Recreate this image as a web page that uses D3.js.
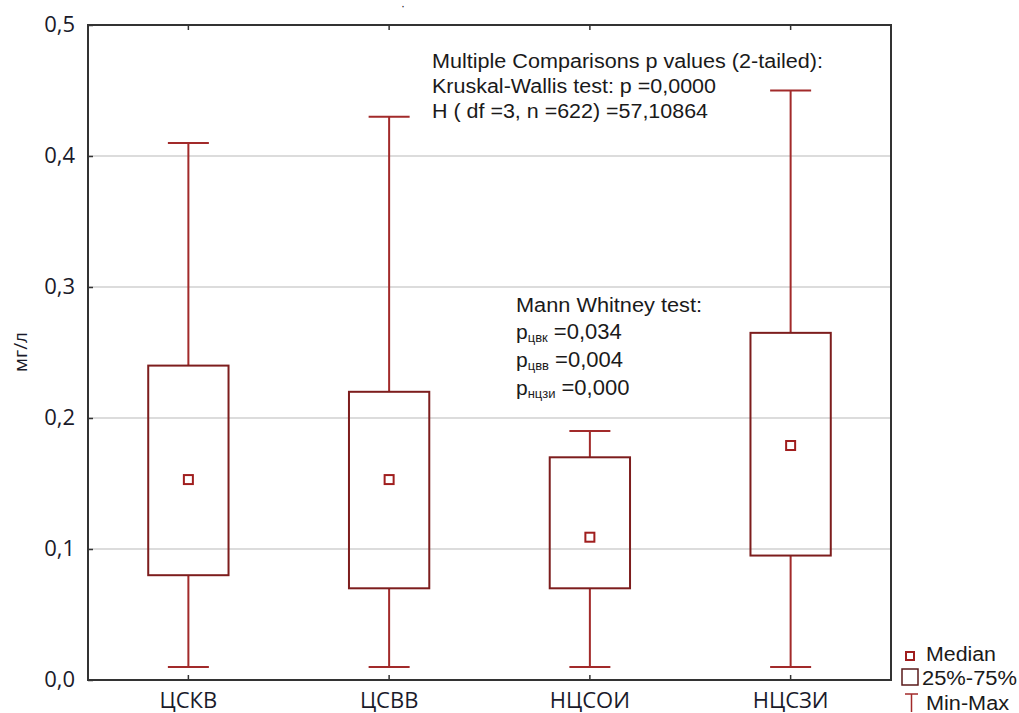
<!DOCTYPE html>
<html>
<head>
<meta charset="utf-8">
<script src="https://cdn.jsdelivr.net/npm/d3@7"></script>
<style>
  html, body { margin: 0; padding: 0; background: #fff; }
  svg { display: block; }
  .tick-label { font-family: "Open Sans", "Noto Sans", sans-serif; font-size: 22px; fill: #1a1a2a; }
  .note { font-family: "Liberation Sans", Arial, sans-serif; font-size: 20px; fill: #1a1a1a; }
</style>
</head>
<body>
<svg id="chart" width="1019" height="713"></svg>
<script>
// Groups and their summary statistics (mg/l)
const categories = ["ЦСКВ", "ЦСВВ", "НЦСОИ", "НЦСЗИ"];
const minValues    = [0.01, 0.01, 0.01, 0.01];
const q1Values     = [0.08, 0.07, 0.07, 0.095];
const medianValues = [0.153, 0.153, 0.109, 0.179];
const q3Values     = [0.24, 0.22, 0.17, 0.265];
const maxValues    = [0.41, 0.43, 0.19, 0.45];
const yTicks = [0, 0.1, 0.2, 0.3, 0.4, 0.5];
const yTickLabels = ["0,0", "0,1", "0,2", "0,3", "0,4", "0,5"];

const svg = d3.select("#chart");
const margin = { left: 88, top: 25, right: 1019 - 891, bottom: 713 - 680 };
const width = 891 - margin.left;
const height = 680 - margin.top;

const x = d3.scaleBand().domain(categories).range([margin.left, margin.left + width]);
const y = d3.scaleLinear().domain([0, 0.5]).range([margin.top + height, margin.top]);

const boxColor = "#7d1d1d";
const whiskerColor = "#a22a2a";

// Horizontal grid lines
svg.append("g")
  .selectAll("line")
  .data(yTicks.slice(1, -1))
  .join("line")
  .attr("x1", margin.left).attr("x2", margin.left + width)
  .attr("y1", d => y(d)).attr("y2", d => y(d))
  .attr("stroke", "#dcdcdc").attr("stroke-width", 2);

// Left axis: inward ticks, comma decimal labels
const yAxis = d3.axisLeft(y).tickValues(yTicks)
  .tickFormat((d, i) => yTickLabels[i]).tickSizeInner(-5).tickSizeOuter(0).tickPadding(13);
const gy = svg.append("g").attr("transform", `translate(${margin.left},0)`).call(yAxis);
gy.select(".domain").remove();
gy.selectAll(".tick line").attr("stroke", "#333").attr("stroke-width", 1.5);
gy.selectAll("text").attr("class", "tick-label").attr("fill", null).attr("dy", "0.3em");

// Bottom axis
const xAxis = d3.axisBottom(x).tickSizeInner(-5).tickSizeOuter(0).tickPadding(12);
const gx = svg.append("g").attr("transform", `translate(0,${margin.top + height})`).call(xAxis);
gx.select(".domain").remove();
gx.selectAll(".tick line").attr("stroke", "#333").attr("stroke-width", 1.5);
gx.selectAll("text").attr("class", "tick-label").attr("fill", null);

// Top axis ticks (no labels)
const gt = svg.append("g").attr("transform", `translate(0,${margin.top})`)
  .call(d3.axisTop(x).tickSizeInner(-5).tickSizeOuter(0).tickFormat(""));
gt.select(".domain").remove();
gt.selectAll(".tick line").attr("stroke", "#333").attr("stroke-width", 1.5);

// Frame around the plot area
svg.append("rect")
  .attr("x", margin.left).attr("y", margin.top)
  .attr("width", width).attr("height", height)
  .attr("fill", "none").attr("stroke", "#333").attr("stroke-width", 2);

// Box plots
const rows = categories.map((c, i) => ({
  c, min: minValues[i], q1: q1Values[i], med: medianValues[i], q3: q3Values[i], max: maxValues[i]
}));
const boxW = x.bandwidth() * 0.4;
const capW = 41;
const g = svg.append("g");
rows.forEach(d => {
  const cx = x(d.c) + x.bandwidth() / 2;
  // whiskers
  g.append("line").attr("x1", cx).attr("x2", cx).attr("y1", y(d.max)).attr("y2", y(d.q3))
    .attr("stroke", whiskerColor).attr("stroke-width", 2);
  g.append("line").attr("x1", cx).attr("x2", cx).attr("y1", y(d.q1)).attr("y2", y(d.min))
    .attr("stroke", whiskerColor).attr("stroke-width", 2);
  g.append("line").attr("x1", cx - capW / 2).attr("x2", cx + capW / 2).attr("y1", y(d.max)).attr("y2", y(d.max))
    .attr("stroke", whiskerColor).attr("stroke-width", 2);
  g.append("line").attr("x1", cx - capW / 2).attr("x2", cx + capW / 2).attr("y1", y(d.min)).attr("y2", y(d.min))
    .attr("stroke", whiskerColor).attr("stroke-width", 2);
  // box
  g.append("rect").attr("x", cx - boxW / 2).attr("y", y(d.q3))
    .attr("width", boxW).attr("height", y(d.q1) - y(d.q3))
    .attr("fill", "none").attr("stroke", boxColor).attr("stroke-width", 2);
  // median marker
  g.append("rect").attr("x", cx - 4.5).attr("y", y(d.med) - 4.5)
    .attr("width", 9).attr("height", 9)
    .attr("fill", "#fff").attr("stroke", "#a01e1e").attr("stroke-width", 2);
});

// Axis title
svg.append("text").attr("class", "tick-label")
  .attr("transform", "translate(27,352) rotate(-90)")
  .attr("text-anchor", "middle").style("font-size", "19px").text("мг/л");

// Small mark above the frame
svg.append("text").attr("class", "note").attr("x", 401).attr("y", 10)
  .style("font-size", "12px").text("·");

// Kruskal-Wallis annotation
const kw = ["Multiple Comparisons p values (2-tailed):",
            "Kruskal-Wallis test: p =0,0000",
            "H ( df =3, n =622) =57,10864"];
const kwLen = [391, 284, 276];
svg.append("g").selectAll("text").data(kw).join("text")
  .attr("class", "note").attr("x", 432).attr("y", (d, i) => 68 + i * 25)
  .attr("textLength", (d, i) => kwLen[i]).attr("lengthAdjust", "spacingAndGlyphs")
  .text(d => d);

// Mann-Whitney annotation
svg.append("text").attr("class", "note").attr("x", 516).attr("y", 312)
  .attr("textLength", 186).attr("lengthAdjust", "spacingAndGlyphs").text("Mann Whitney test:");
const mw = [["цвк", "=0,034"], ["цвв", "=0,004"], ["нцзи", "=0,000"]];
const mwY = [339, 367, 395];
mw.forEach((m, i) => {
  const t = svg.append("text").attr("class", "note").attr("x", 516).attr("y", mwY[i]);
  t.append("tspan").style("font-size", "21px").text("p");
  t.append("tspan").attr("dy", 3).style("font-size", "13px").text(m[0]);
  t.append("tspan").attr("dy", -3).style("font-size", "22px").text(" " + m[1]);
});

// Legend
const lg = svg.append("g");
lg.append("rect").attr("x", 906).attr("y", 652).attr("width", 8).attr("height", 8)
  .attr("fill", "#fff").attr("stroke", "#a01e1e").attr("stroke-width", 2);
lg.append("text").attr("class", "note").attr("x", 926).attr("y", 661)
  .attr("textLength", 70).attr("lengthAdjust", "spacingAndGlyphs").text("Median");
lg.append("rect").attr("x", 902).attr("y", 669).attr("width", 16).attr("height", 16)
  .attr("fill", "none").attr("stroke", "#5a1a1a").attr("stroke-width", 1.5);
lg.append("text").attr("class", "note").attr("x", 922).attr("y", 685)
  .attr("textLength", 95).attr("lengthAdjust", "spacingAndGlyphs").text("25%-75%");
lg.append("line").attr("x1", 905).attr("x2", 918).attr("y1", 694).attr("y2", 694)
  .attr("stroke", whiskerColor).attr("stroke-width", 1.5);
lg.append("line").attr("x1", 911.5).attr("x2", 911.5).attr("y1", 694).attr("y2", 712)
  .attr("stroke", whiskerColor).attr("stroke-width", 1.5);
lg.append("text").attr("class", "note").attr("x", 926).attr("y", 710)
  .attr("textLength", 83).attr("lengthAdjust", "spacingAndGlyphs").text("Min-Max");
</script>
</body>
</html>
